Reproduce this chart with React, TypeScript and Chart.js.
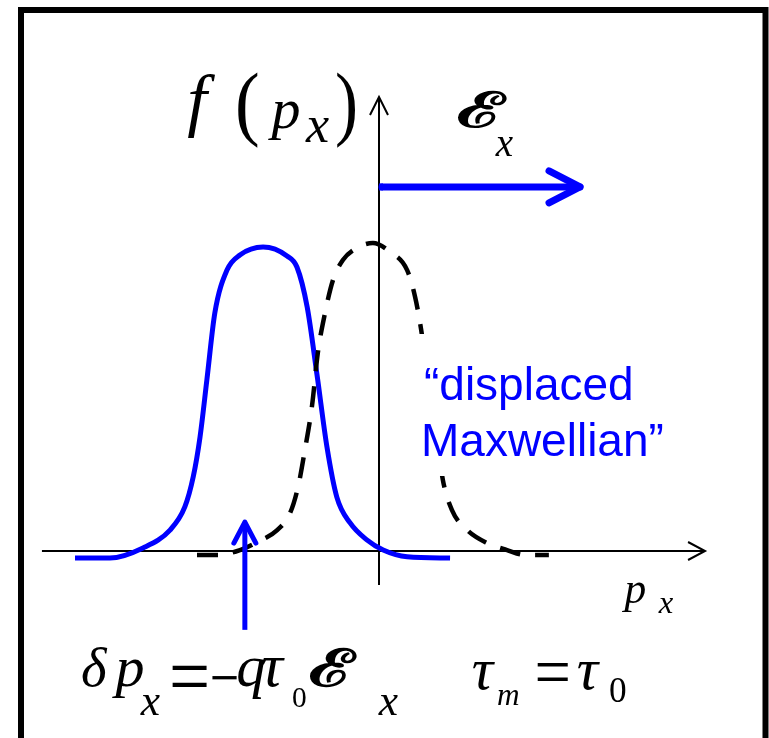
import React, { useEffect, useRef } from "react";
import { Chart, registerables } from "chart.js";

Chart.register(...registerables);

// Momentum p_x (arbitrary units, origin on the vertical axis)
const displacedP = [-8.0, -7.08, -6.21, -5.5, -5.11, -4.89, -4.71, -4.53, -4.32, -4.0, -3.66, -3.05, -2.42, -2.16, -1.89, -1.63, -1.37, -1.11, -0.76, -0.32, 0.11, 0.74, 1.87];
const displacedF = [-0.023, -0.023, 0.01, 0.068, 0.143, 0.24, 0.37, 0.555, 0.773, 0.912, 0.961, 0.987, 0.958, 0.922, 0.792, 0.571, 0.338, 0.175, 0.091, 0.036, 0.003, -0.019, -0.023];

const equilibriumP = [-4.79, -4.24, -3.66, -3.21, -2.68, -2.34, -2.13, -1.95, -1.76, -1.61, -1.42, -1.21, -0.95, -0.68, -0.16, 0.29, 0.74, 0.95, 1.11, 1.29, 1.5, 1.68, 1.92, 2.32, 2.84, 3.37, 3.84, 4.47];
const equilibriumF = [-0.013, -0.013, 0.003, 0.029, 0.068, 0.123, 0.208, 0.328, 0.474, 0.643, 0.773, 0.88, 0.945, 0.977, 1.0, 0.971, 0.912, 0.825, 0.718, 0.555, 0.393, 0.231, 0.133, 0.068, 0.026, 0.003, -0.013, -0.013];

// axis extents & annotation arrows (data units)
const axisXRange = [-8.87, 8.58];
const axisYRange = [-0.11, 1.474];
const fieldArrow = { p0: 0, p1: 5.29, f: 1.182 };
const shiftArrow = { p: -3.53, f0: -0.256, f1: 0.094 };

const BLUE = "#0000ff";
const SERIF = '"Liberation Serif", "Times New Roman", serif';
const DSERIF = '"DejaVu Serif", serif';
const SANS = '"Liberation Sans", Arial, sans-serif';

const W = 769;
const H = 738;

type Glyph = { s: string; style: string; fam: string; l: number; t: number; b: number; r?: number };

const g = (s: string, style: string, fam: string, l: number, t: number, b: number, r?: number): Glyph => ({ s, style, fam, l, t, b, r });

const glyphs: Glyph[] = [
  // f(p_x)
  g("f", "italic", SERIF, 188, 73, 138),
  g("(", "normal", SERIF, 238, 72, 148, 258),
  g("p", "italic", SERIF, 268, 100, 140),
  g("x", "italic", SERIF, 305, 118, 142),
  g(")", "normal", SERIF, 337, 72, 148, 355),
  // E_x
  g("\u2130", "bold", DSERIF, 458, 90, 128, 507),
  g("x", "italic", SERIF, 495, 138, 156),
  // p_x axis label
  g("p", "italic", SERIF, 622, 582, 612),
  g("x", "italic", SERIF, 658, 598, 613),
  // bottom formula
  g("\u03b4", "italic", SERIF, 82, 648, 687),
  g("p", "italic", SERIF, 112, 658, 698),
  g("x", "italic", SERIF, 140, 695, 715),
  g("=", "normal", SERIF, 172, 666, 687, 207),
  g("\u2212", "normal", SERIF, 212, 676, 680, 237),
  g("q", "italic", SERIF, 238, 658, 698),
  g("\u03c4", "italic", SERIF, 262, 658, 687),
  g("0", "normal", SERIF, 293, 688, 708),
  g("\u2130", "bold", DSERIF, 310, 648, 688, 357),
  g("x", "italic", SERIF, 378, 695, 715),
  g("\u03c4", "italic", SERIF, 473, 662, 690),
  g("m", "italic", SERIF, 498, 690, 705),
  g("=", "normal", SERIF, 537, 663, 681, 568),
  g("\u03c4", "italic", SERIF, 578, 662, 690),
  g("0", "normal", SERIF, 610, 679, 703),
];

function drawGlyph(ctx: CanvasRenderingContext2D, gl: Glyph) {
  ctx.font = `${gl.style} 100px ${gl.fam}`;
  const m = ctx.measureText(gl.s);
  const h = m.actualBoundingBoxAscent + m.actualBoundingBoxDescent;
  const w = m.actualBoundingBoxLeft + m.actualBoundingBoxRight;
  const sy = (gl.b - gl.t) / h;
  const sx = gl.r != null ? (gl.r - gl.l) / w : sy;
  ctx.save();
  ctx.translate(gl.l, gl.b);
  ctx.scale(sx, sy);
  ctx.fillText(gl.s, m.actualBoundingBoxLeft, -m.actualBoundingBoxDescent);
  ctx.restore();
}

const decorPlugin = {
  id: "decor",
  beforeDatasetsDraw(chart: any) {
    const ctx = chart.ctx as CanvasRenderingContext2D;
    const xs = chart.scales.x;
    const ys = chart.scales.y;
    const X = (v: number) => xs.getPixelForValue(v);
    const Y = (v: number) => ys.getPixelForValue(v);
    ctx.save();
    ctx.strokeStyle = "#000";
    ctx.lineWidth = 2;
    ctx.lineCap = "butt";
    const y0 = Y(0);
    ctx.beginPath();
    ctx.moveTo(X(axisXRange[0]), y0);
    ctx.lineTo(X(axisXRange[1]), y0);
    ctx.stroke();
    ctx.beginPath();
    ctx.moveTo(X(axisXRange[1]) - 17, y0 - 9);
    ctx.lineTo(X(axisXRange[1]), y0);
    ctx.lineTo(X(axisXRange[1]) - 17, y0 + 9);
    ctx.stroke();
    const x0 = X(0);
    ctx.beginPath();
    ctx.moveTo(x0, Y(axisYRange[0]));
    ctx.lineTo(x0, Y(axisYRange[1]));
    ctx.stroke();
    ctx.beginPath();
    ctx.moveTo(x0 - 9, Y(axisYRange[1]) + 18);
    ctx.lineTo(x0, Y(axisYRange[1]));
    ctx.lineTo(x0 + 9, Y(axisYRange[1]) + 18);
    ctx.stroke();
    ctx.restore();
  },
  afterDatasetsDraw(chart: any) {
    const ctx = chart.ctx as CanvasRenderingContext2D;
    const xs = chart.scales.x;
    const ys = chart.scales.y;
    const X = (v: number) => xs.getPixelForValue(v);
    const Y = (v: number) => ys.getPixelForValue(v);
    ctx.save();
    // white box behind the label (hides the dashed curve)
    ctx.fillStyle = "#fff";
    ctx.fillRect(412, 334, 255, 142);

    // field arrow
    ctx.strokeStyle = BLUE;
    ctx.lineWidth = 7;
    ctx.lineCap = "round";
    ctx.lineJoin = "round";
    const fy = Y(fieldArrow.f);
    ctx.beginPath();
    ctx.moveTo(X(fieldArrow.p0) + 3, fy);
    ctx.lineTo(X(fieldArrow.p1), fy);
    ctx.stroke();
    ctx.beginPath();
    ctx.moveTo(X(fieldArrow.p1) - 31, fy - 16);
    ctx.lineTo(X(fieldArrow.p1), fy);
    ctx.lineTo(X(fieldArrow.p1) - 31, fy + 16);
    ctx.stroke();
    ctx.lineCap = "butt";
    ctx.beginPath();
    ctx.moveTo(X(0), fy);
    ctx.lineTo(X(0) + 4, fy);
    ctx.stroke();

    // shift arrow
    ctx.lineWidth = 5;
    const sx = X(shiftArrow.p);
    ctx.beginPath();
    ctx.moveTo(sx, Y(shiftArrow.f0));
    ctx.lineTo(sx, Y(shiftArrow.f1) + 2);
    ctx.stroke();
    ctx.lineCap = "round";
    ctx.beginPath();
    ctx.moveTo(sx - 11, Y(shiftArrow.f1) + 21);
    ctx.lineTo(sx, Y(shiftArrow.f1));
    ctx.lineTo(sx + 11, Y(shiftArrow.f1) + 21);
    ctx.stroke();

    // frame
    ctx.strokeStyle = "#000";
    ctx.lineWidth = 6;
    ctx.lineCap = "butt";
    ctx.lineJoin = "miter";
    ctx.beginPath();
    ctx.moveTo(21, H + 5);
    ctx.lineTo(21, 10);
    ctx.lineTo(765.5, 10);
    ctx.lineTo(765.5, H + 5);
    ctx.stroke();

    // texts
    ctx.textAlign = "left";
    ctx.textBaseline = "alphabetic";
    ctx.fillStyle = "#000";
    glyphs.forEach((gl) => drawGlyph(ctx, gl));

    ctx.fillStyle = BLUE;
    ctx.font = `46px ${SANS}`;
    ctx.fillText("\u201cdisplaced", 424, 400);
    ctx.fillText("Maxwellian\u201d", 421, 456);
    ctx.restore();
  },
};

export default function App() {
  const ref = useRef<HTMLCanvasElement | null>(null);
  useEffect(() => {
    document.body.style.margin = "0";
    document.body.style.background = "#fff";
    if (!ref.current) return;
    const chart = new Chart(ref.current, {
      type: "line",
      data: {
        datasets: [
          {
            label: "equilibrium",
            data: equilibriumP.map((p, i) => ({ x: p, y: equilibriumF[i] })),
            borderColor: "#000",
            borderWidth: 4.5,
            borderDash: [21, 15],
            borderCapStyle: "butt",
            pointRadius: 0,
            fill: false,
            cubicInterpolationMode: "monotone",
          },
          {
            label: "displaced Maxwellian",
            data: displacedP.map((p, i) => ({ x: p, y: displacedF[i] })),
            borderColor: BLUE,
            borderWidth: 5,
            pointRadius: 0,
            fill: false,
            cubicInterpolationMode: "monotone",
          },
        ],
      },
      options: {
        animation: false,
        responsive: false,
        devicePixelRatio: 1,
        layout: { padding: 0 },
        plugins: { legend: { display: false }, tooltip: { enabled: false } },
        events: [],
        scales: {
          x: { type: "linear", display: false, min: -379 / 38, max: 390 / 38 },
          y: { type: "linear", display: false, min: -187 / 308, max: 551 / 308 },
        },
      },
      plugins: [decorPlugin],
    } as any);
    return () => chart.destroy();
  }, []);
  return (
    <div style={{ position: "absolute", left: 0, top: 0, width: W, height: H, background: "#fff" }}>
      <canvas ref={ref} width={W} height={H} style={{ display: "block" }} />
    </div>
  );
}
